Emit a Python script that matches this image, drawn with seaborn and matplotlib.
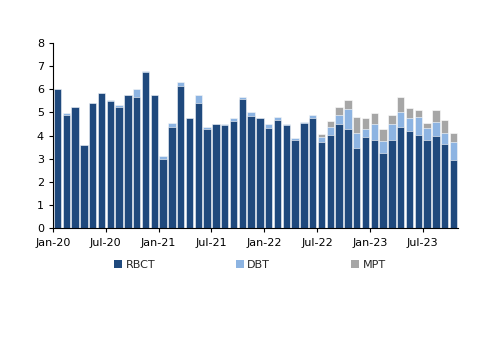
import matplotlib
matplotlib.use("Agg")
import matplotlib.pyplot as plt
import seaborn as sns
import pandas as pd
import numpy as np
from matplotlib.patches import Patch

months = pd.date_range("2020-01-01", "2023-10-01", freq="MS").strftime("%b-%y").tolist()

rbct = [6.02, 4.87, 5.23, 3.59, 5.40, 5.85, 5.49, 5.22, 5.76, 5.68, 6.73, 5.75,
        2.97, 4.39, 6.15, 4.75, 5.40, 4.28, 4.50, 4.47, 4.63, 5.56, 4.86, 4.78,
        4.32, 4.68, 4.47, 3.80, 4.54, 4.74, 3.72, 4.03, 4.52, 4.28, 3.46, 3.95,
        3.82, 3.26, 3.82, 4.38, 4.21, 4.02, 3.82, 3.96, 3.63, 2.95]
dbt = [0.00, 0.10, 0.00, 0.00, 0.00, 0.00, 0.03, 0.10, 0.00, 0.33, 0.06, 0.00,
       0.14, 0.16, 0.15, 0.00, 0.35, 0.09, 0.00, 0.03, 0.12, 0.12, 0.17, 0.00,
       0.16, 0.12, 0.03, 0.09, 0.04, 0.14, 0.23, 0.35, 0.38, 0.88, 0.65, 0.33,
       0.68, 0.49, 0.66, 0.65, 0.55, 0.79, 0.50, 0.62, 0.48, 0.78]
mpt = [0.00, 0.00, 0.00, 0.00, 0.00, 0.00, 0.00, 0.00, 0.00, 0.00, 0.00, 0.00,
       0.00, 0.00, 0.00, 0.00, 0.00, 0.00, 0.00, 0.00, 0.00, 0.00, 0.00, 0.00,
       0.00, 0.00, 0.00, 0.00, 0.00, 0.00, 0.11, 0.26, 0.32, 0.36, 0.69, 0.48,
       0.46, 0.54, 0.42, 0.63, 0.43, 0.29, 0.22, 0.54, 0.56, 0.36]
series = ["RBCT", "DBT", "MPT"]
colors = ["#1F497D", "#8DB4E2", "#A6A6A6"]
tick_labels = ["Jan-20", "Jul-20", "Jan-21", "Jul-21", "Jan-22", "Jul-22", "Jan-23", "Jul-23"]

df = pd.DataFrame({"month": months, "RBCT": rbct, "DBT": dbt, "MPT": mpt})
df["l1"] = df["RBCT"]
df["l2"] = df["RBCT"] + df["DBT"]
df["l3"] = df["l2"] + df["MPT"]

sns.set_style("white")
plt.rcParams["font.family"] = ["DejaVu Sans"]

fig = plt.figure(figsize=(5.0, 3.53), dpi=100)
ax = fig.add_axes([0.106, 0.354, 0.810, 0.524])

for col, c in zip(["l3", "l2", "l1"], colors[::-1]):
    sns.barplot(data=df, x="month", y=col, order=months, color=c, width=0.84,
                saturation=1, edgecolor="white", linewidth=0.4, ax=ax)

ax.set_xlim(-0.5, len(months) - 0.5)
ax.set_ylim(0, 8)
ax.set_yticks(range(0, 9))
ax.set_xticks(np.arange(0, len(months), 6) - 0.5)
ax.set_xticklabels(tick_labels)
ax.set_xlabel("")
ax.set_ylabel("")
for s in ["top", "right"]:
    ax.spines[s].set_visible(False)
for s in ["left", "bottom"]:
    ax.spines[s].set_color("black")
    ax.spines[s].set_linewidth(0.8)
ax.tick_params(axis="both", which="both", direction="out", length=3, width=0.8,
               colors="black", labelsize=8, left=True, bottom=True)
ax.tick_params(axis="x", pad=4)

handles = [Patch(facecolor=c, edgecolor="none") for c in colors]
fig.legend(handles, series, loc="center", bbox_to_anchor=(0.5, 0.249), ncol=3,
           frameon=False, fontsize=8, handlelength=0.7, handleheight=0.7,
           handletextpad=0.3, columnspacing=7.3)

fig.savefig("out.png", dpi=100)
